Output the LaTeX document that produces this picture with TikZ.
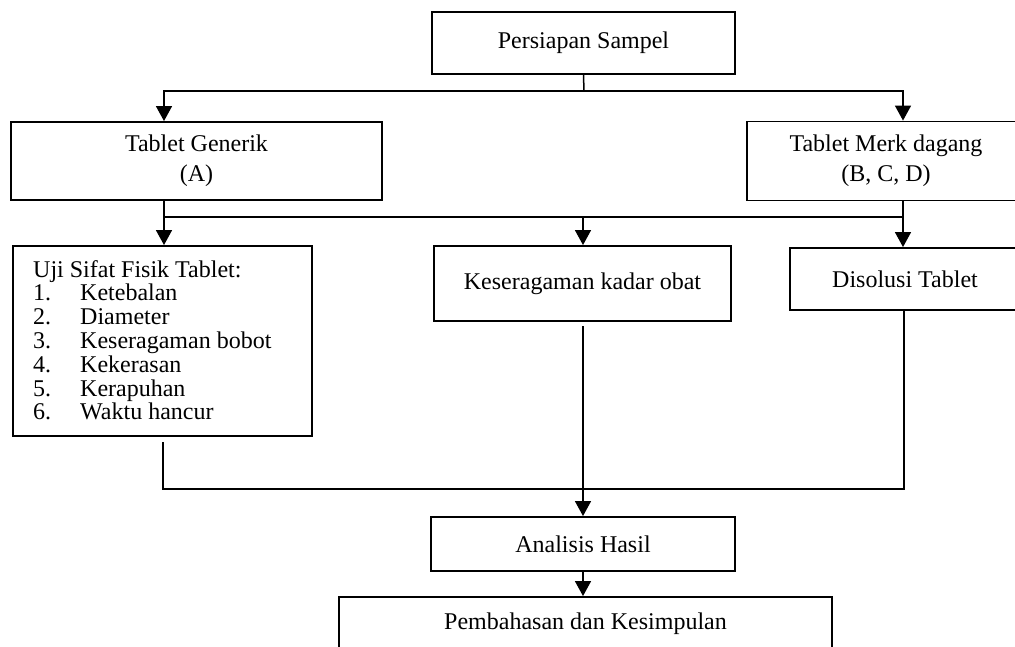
\documentclass[tikz,border=0pt]{standalone}
\usepackage{fontspec}
\setmainfont{Liberation Serif}
\usetikzlibrary{arrows.meta}
\tikzset{
  box/.style={draw, line width=1.9pt, rectangle, inner sep=0pt, align=center},
  conn/.style={line width=1.5pt},
  arr/.style={conn, -{Triangle[length=15pt,width=16pt]}},
  txt/.style={inner sep=0pt, anchor=base west}
}
\begin{document}
\begin{tikzpicture}[x=1pt, y=-1pt, font=\fontsize{24}{30}\selectfont]
\useasboundingbox (0,0) rectangle (1015,646);
\clip (0,0) rectangle (1015,646);
% boxes
\node[box, minimum width=303pt, minimum height=62pt] (ps) at (583.5,43) {Persiapan Sampel};
\node[box, minimum width=371pt, minimum height=78pt] (tg) at (196.5,161) {Tablet Generik\\(A)};
\node[box, minimum width=278pt, minimum height=79pt] (tm) at (886,161) {Tablet Merk dagang\\(B, C, D)};
\node[box, minimum width=299pt, minimum height=190pt] (uji) at (162.5,341) {};
\node[box, minimum width=297pt, minimum height=75pt] (ks) at (582.5,283.5) {Keseragaman kadar obat};
\node[box, minimum width=230pt, minimum height=62pt] (ds) at (905,279) {Disolusi Tablet};
\node[box, minimum width=304pt, minimum height=54pt] (ah) at (583,544) {Analisis Hasil};
\node[box, minimum width=493pt, minimum height=53pt] (pk) at (585.5,623.5) {Pembahasan dan Kesimpulan};
% list text
\node[txt] (u0) at (33,277) {Uji Sifat Fisik Tablet:};
\node[txt] (u1) at (33,300.8) {\makebox[47pt][l]{1.}Ketebalan};
\node[txt] (u2) at (33,324.6) {\makebox[47pt][l]{2.}Diameter};
\node[txt] (u3) at (33,348.4) {\makebox[47pt][l]{3.}Keseragaman bobot};
\node[txt] (u4) at (33,372.2) {\makebox[47pt][l]{4.}Kekerasan};
\node[txt] (u5) at (33,396) {\makebox[47pt][l]{5.}Kerapuhan};
\node[txt] (u6) at (33,419.8) {\makebox[47pt][l]{6.}Waktu hancur};
% junctions
\coordinate (j1) at (584,91);
\coordinate (j1L) at (164,91);
\coordinate (j1R) at (903,91);
\coordinate (j2L) at (164,217);
\coordinate (j2M) at (583,217);
\coordinate (j2R) at (903,217);
\coordinate (j3L) at (163,489);
\coordinate (j3R) at (904,489);
\coordinate (ksb) at (583,326);
\coordinate (ujb) at (163,442);
% connectors
\draw[conn] (ps.south) -- (j1);
\draw[arr] (j1) -- (j1L) -- (j1L |- tg.north);
\draw[arr] (j1) -- (j1R) -- (j1R |- tm.north);
\draw[arr] (j2L |- tg.south) -- (j2L) -- (j2L |- uji.north);
\draw[conn] (j2L) -- (j2R);
\draw[arr] (j2R |- tm.south) -- (j2R) -- (j2R |- ds.north);
\draw[arr] (j2M) -- (j2M |- ks.north);
\draw[conn] (ujb) -- (j3L) -- (j3R) -- (j3R |- ds.south);
\draw[arr] (ksb) -- (ksb |- ah.north);
\draw[arr] (ah.south) -- (ah.south |- pk.north);
\end{tikzpicture}
\end{document}
